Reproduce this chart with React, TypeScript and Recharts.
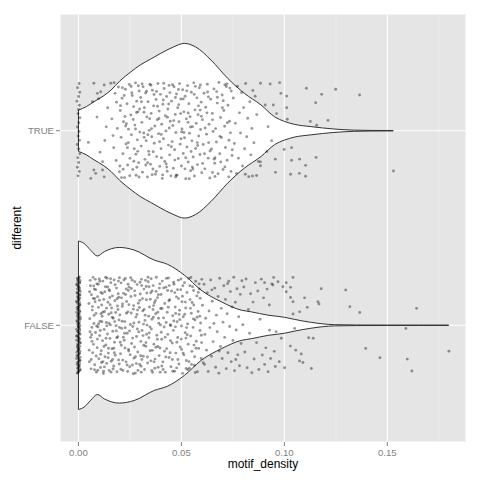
import {
  ComposedChart,
  Area,
  Line,
  Scatter,
  XAxis,
  YAxis,
  CartesianGrid,
} from "recharts"

// category centres on the numeric y axis
const TRUE_Y = 2
const FALSE_Y = 1

const xTicks = [0, 0.05, 0.1, 0.15]
const xMinorTicks = [0.025, 0.075, 0.125, 0.175]
const yTicks = [FALSE_Y, TRUE_Y]
const yLabels: Record<number, string> = { 1: "FALSE", 2: "TRUE" }

// violin half-widths (in category units) along motif_density
const trueDensity: [number, number][] = [
  [0, 0.106], [0.004, 0.125], [0.0075, 0.149], [0.012, 0.178], [0.0158, 0.209],
  [0.02, 0.255], [0.0255, 0.303], [0.03, 0.338], [0.035, 0.368], [0.04, 0.398],
  [0.046, 0.43], [0.0514, 0.449], [0.057, 0.43], [0.0644, 0.363], [0.0725, 0.269],
  [0.0806, 0.192], [0.0887, 0.132], [0.0952, 0.072], [0.1, 0.048], [0.1048, 0.033],
  [0.113, 0.021], [0.124, 0.009], [0.134, 0.003], [0.143, 0.0015], [0.1529, 0.001],
]

const falseDensity: [number, number][] = [
  [0, 0.433], [0.0027, 0.421], [0.006, 0.385], [0.0092, 0.356], [0.0125, 0.378],
  [0.0198, 0.4], [0.027, 0.387], [0.0368, 0.335], [0.0433, 0.313], [0.0514, 0.258],
  [0.0595, 0.181], [0.0693, 0.121], [0.079, 0.078], [0.0839, 0.069], [0.092, 0.052],
  [0.1001, 0.041], [0.105, 0.03], [0.113, 0.015], [0.1244, 0.003], [0.135, 0.0015],
  [0.15, 0.001], [0.165, 0.001], [0.1798, 0.001],
]

// jittered observations: [motif_density, vertical jitter]
const truePoints: [number, number][] = [
  [0.0003,0.243],[-0.0004,0.221],[0.0006,0.198],[0.0001,0.176],[-0.0007,0.152],[0.0004,0.131],[0.0,0.109],[-0.0002,0.088],[0.0007,0.067],[0.0002,0.041],
  [-0.0005,0.019],[0.0003,-0.004],[-0.0001,-0.027],[0.0005,-0.049],[-0.0006,-0.071],[0.0002,-0.094],[0.0006,-0.118],[-0.0003,-0.139],[0.0001,-0.163],[-0.0005,-0.188],
  [0.0004,-0.209],[-0.0002,-0.232],
  [0.0075,0.244],[0.0092,0.192],[0.0108,0.2],[0.0125,0.235],[0.0157,0.244],[0.0173,0.247],[0.0068,0.149],[0.006,-0.245],[0.0075,-0.202],[0.0084,-0.219],
  [0.0117,-0.202],[0.0125,-0.237],[0.0117,-0.159],[0.009,0.07],[0.0135,0.02],[0.0048,-0.06],[0.0105,-0.11],[0.0142,0.118],[0.0128,-0.05],[0.0098,0.165],
  [0.0162,0.061],[0.0171,-0.087],[0.0178,0.192],[0.0183,-0.153],[0.0189,0.012],[0.0194,0.225],[0.0199,-0.211],[0.0203,0.104],[0.0207,-0.034],[0.0212,0.167],
  [0.0216,-0.118],[0.0219,0.046],[0.0224,-0.241],[0.0228,0.213],[0.0231,-0.068],[0.0236,0.139],[0.0239,-0.176],[0.0243,0.008],[0.0247,0.238],[0.025,-0.142],
  [0.0254,0.081],[0.0257,-0.021],[0.0261,0.181],[0.0264,-0.199],[0.0268,0.124],[0.0271,-0.093],[0.0274,0.029],[0.0277,0.246],[0.028,-0.229],[0.0283,0.152],
  [0.0286,-0.047],[0.0289,0.097],[0.0292,-0.164],[0.0295,0.204],[0.0298,-0.007],[0.0185,0.147],[0.0201,-0.181],[0.0226,0.073],[0.0249,-0.231],[0.0266,0.058],
  [0.0279,-0.121],[0.0291,0.231],[0.0168,-0.025],[0.0213,0.221],[0.0238,-0.087],[0.0259,0.195],[0.0284,-0.188],[0.0297,0.112],[0.0209,-0.241],[0.0233,0.036],
  [0.0302,0.171],[0.0305,-0.079],[0.0308,0.043],[0.0311,-0.213],[0.0314,0.226],[0.0317,-0.012],[0.032,0.118],[0.0323,-0.147],[0.0326,0.194],[0.0329,-0.051],
  [0.0332,0.071],[0.0335,-0.238],[0.0338,0.149],[0.0341,-0.106],[0.0344,0.002],[0.0347,0.239],[0.035,-0.172],[0.0353,0.089],[0.0356,-0.031],[0.0359,0.208],
  [0.0362,-0.197],[0.0365,0.128],[0.0368,-0.064],[0.0371,0.024],[0.0374,-0.224],[0.0377,0.161],[0.038,-0.133],[0.0383,0.057],[0.0386,0.243],[0.0389,-0.015],
  [0.0392,0.101],[0.0395,-0.183],[0.0398,0.187],[0.0401,-0.092],[0.0404,0.033],[0.0407,-0.245],[0.041,0.136],[0.0413,-0.041],[0.0416,0.217],[0.0419,-0.158],
  [0.0422,0.077],[0.0425,-0.001],[0.0428,0.176],[0.0431,-0.208],[0.0434,0.112],[0.0437,-0.074],[0.044,0.233],[0.0443,-0.124],[0.0446,0.049],[0.0449,-0.232],
  [0.0309,0.241],[0.0327,-0.176],[0.0346,0.062],[0.0363,-0.108],[0.0379,0.202],[0.0394,-0.057],[0.0412,0.158],[0.0429,-0.187],[0.0441,0.014],[0.0318,0.095],
  [0.0337,-0.021],[0.0358,-0.226],[0.0384,0.126],[0.0403,-0.139],[0.0432,0.069],
  [0.0452,0.152],[0.0455,-0.056],[0.0458,0.027],[0.0461,-0.193],[0.0464,0.226],[0.0467,-0.098],[0.047,0.084],[0.0473,-0.009],[0.0476,0.189],[0.0479,-0.229],
  [0.0482,0.118],[0.0485,-0.143],[0.0488,0.046],[0.0491,0.242],[0.0494,-0.069],[0.0497,0.163],[0.05,-0.181],[0.0503,0.009],[0.0506,0.211],[0.0509,-0.117],
  [0.0512,0.097],[0.0515,-0.036],[0.0518,0.177],[0.0521,-0.247],[0.0524,0.061],[0.0527,-0.084],[0.053,0.232],[0.0533,-0.161],[0.0536,0.139],[0.0539,-0.013],
  [0.0542,0.072],[0.0545,-0.206],[0.0548,0.198],[0.0551,-0.052],[0.0554,0.021],[0.0557,-0.135],[0.056,0.246],[0.0563,-0.233],[0.0566,0.107],[0.0569,-0.091],
  [0.0572,0.038],[0.0575,0.169],[0.0578,-0.174],[0.0581,0.082],[0.0584,-0.027],[0.0587,0.221],[0.059,-0.122],[0.0593,0.006],[0.0596,0.147],[0.0599,-0.216],
  [0.0457,0.236],[0.0472,-0.238],[0.0487,0.134],[0.0501,-0.006],[0.0517,-0.196],[0.0532,0.043],[0.0547,-0.107],[0.0562,0.187],[0.0577,-0.061],[0.0592,0.235],
  [0.0468,-0.151],[0.0496,0.088],[0.0526,0.205],[0.0553,-0.187],[0.0583,0.128],
  [0.0602,0.057],[0.0606,-0.071],[0.061,0.193],[0.0614,-0.196],[0.0618,0.121],[0.0622,-0.018],[0.0626,0.239],[0.063,-0.141],[0.0634,0.033],[0.0638,-0.243],
  [0.0642,0.162],[0.0646,-0.094],[0.065,0.089],[0.0654,-0.004],[0.0658,0.215],[0.0662,-0.167],[0.0666,0.011],[0.067,-0.058],[0.0674,0.142],[0.0678,-0.221],
  [0.0682,0.248],[0.0686,-0.118],[0.069,0.068],[0.0694,-0.035],[0.0698,0.184],[0.0702,-0.199],[0.0706,0.104],[0.071,0.023],[0.0714,-0.086],[0.0718,0.227],
  [0.0722,-0.152],[0.0726,0.131],[0.073,-0.237],[0.0734,0.049],[0.0738,-0.011],[0.0742,0.204],[0.0746,-0.127],[0.0612,-0.118],[0.0631,0.174],[0.0651,-0.215],
  [0.0671,0.201],[0.0691,-0.161],[0.0711,0.236],[0.0731,-0.049],[0.0624,0.092],[0.0663,-0.139],[0.0703,0.154],[0.0741,-0.209],
  [0.0204,0.129],[0.0217,-0.198],[0.0229,0.024],[0.0242,-0.061],[0.0256,0.227],[0.0269,-0.157],[0.0282,0.094],[0.0294,-0.238],[0.0306,0.149],[0.0319,-0.034],
  [0.0331,0.203],[0.0343,-0.123],[0.0355,0.011],[0.0367,0.186],[0.0378,-0.209],[0.0391,0.063],[0.0402,-0.019],[0.0414,0.244],[0.0426,-0.171],[0.0438,0.137],
  [0.0451,-0.082],[0.0463,0.052],[0.0474,-0.228],[0.0486,0.212],[0.0498,-0.041],[0.0509,0.163],[0.0521,-0.139],[0.0533,0.091],[0.0544,0.019],[0.0556,-0.197],
  [0.0568,0.228],[0.0579,-0.076],[0.0591,0.106],[0.0603,-0.168],[0.0615,0.014],[0.0627,0.199],[0.0639,-0.104],[0.0651,0.056],[0.0663,-0.235],[0.0675,0.172],
  [0.0687,-0.029],[0.0699,0.118],[0.0711,-0.186],[0.0723,0.041],[0.0735,0.219],[0.0747,-0.098],[0.0222,0.181],[0.0288,-0.106],[0.0352,0.234],[0.0409,-0.227],
  [0.0471,0.171],[0.0538,-0.247],[0.0597,0.074],[0.0659,-0.146],[0.0721,0.241],[0.0277,0.009],[0.0336,-0.164],[0.0444,0.196],[0.0512,-0.009],[0.0632,-0.061],
  [0.0752,0.168],[0.0757,-0.066],[0.0762,0.038],[0.0767,-0.219],[0.0772,0.229],[0.0777,-0.141],[0.0782,0.092],[0.0787,-0.012],[0.0792,0.196],[0.0797,-0.181],
  [0.0802,0.119],[0.0807,-0.093],[0.0812,0.243],[0.0817,-0.031],[0.0822,0.064],[0.0827,-0.236],[0.0832,0.149],[0.0837,-0.124],[0.0842,0.012],[0.0847,0.207],
  [0.081,-0.224],[0.0845,-0.233],[0.0865,-0.23],[0.0852,-0.062],[0.0858,0.177],[0.0866,0.083],[0.0874,-0.158],[0.0884,0.244],[0.0884,-0.16],[0.0884,-0.18],
  [0.0907,0.132],
  [0.0977,0.247],[0.0931,0.24],[0.1107,0.218],[0.1249,0.213],[0.1365,0.184],[0.1181,0.187],[0.1152,0.144],[0.1011,0.178],[0.0983,0.192],[0.0946,0.132],
  [0.1011,0.118],[0.1014,0.059],[0.1126,0.048],[0.1212,0.053],[0.1157,0.028],[0.0999,-0.096],[0.1035,-0.087],[0.0956,-0.146],[0.1035,-0.152],[0.1074,-0.146],
  [0.1154,-0.137],[0.1103,-0.178],[0.103,-0.224],[0.1073,-0.219],[0.1103,-0.234],[0.153,-0.207],[0.0957,-0.214],[0.0921,0.021],[0.0938,-0.051],[0.0962,0.088],
  [0.0915,-0.107],
]

const falsePoints: [number, number][] = [
  [0.0004,0.248],[-0.0006,0.241],[0.0001,0.236],[0.0008,0.229],[-0.0003,0.223],[0.0005,0.217],[-0.0008,0.211],[0.0002,0.204],[-0.0001,0.198],[0.0006,0.191],
  [-0.0005,0.186],[0.0003,0.179],[0.0009,0.173],[-0.0007,0.166],[0.0,0.161],[0.0004,0.154],[-0.0004,0.148],[0.0007,0.141],[-0.0002,0.136],[0.0001,0.129],
  [-0.0009,0.123],[0.0005,0.117],[-0.0003,0.111],[0.0008,0.104],[0.0002,0.098],[-0.0006,0.092],[0.0003,0.086],[-0.0001,0.079],[0.0006,0.073],[-0.0008,0.067],
  [0.0001,0.061],[0.0004,0.054],[-0.0005,0.048],[0.0009,0.042],[-0.0002,0.036],[0.0003,0.029],[-0.0007,0.023],[0.0005,0.017],[0.0,0.011],[-0.0004,0.004],
  [0.0007,-0.002],[-0.0001,-0.008],[0.0002,-0.014],[-0.0009,-0.021],[0.0006,-0.027],[-0.0003,-0.033],[0.0004,-0.039],[0.0008,-0.046],[-0.0006,-0.052],[0.0001,-0.058],
  [-0.0002,-0.064],[0.0005,-0.071],[-0.0008,-0.077],[0.0003,-0.083],[0.0009,-0.089],[-0.0004,-0.096],[0.0,-0.102],[0.0006,-0.108],[-0.0005,-0.114],[0.0002,-0.121],
  [-0.0001,-0.127],[0.0007,-0.133],[-0.0007,-0.139],[0.0004,-0.146],[0.0001,-0.152],[-0.0003,-0.158],[0.0008,-0.164],[-0.0009,-0.171],[0.0003,-0.177],[0.0005,-0.183],
  [-0.0002,-0.189],[0.0006,-0.196],[-0.0006,-0.202],[0.0001,-0.208],[0.0004,-0.214],[-0.0004,-0.221],[0.0009,-0.227],[-0.0001,-0.233],[0.0002,-0.239],[-0.0005,-0.246],
  [0.0002,0.245],[-0.0003,0.232],[0.0006,0.219],[-0.0007,0.207],[0.0001,0.194],[0.0004,0.182],[-0.0005,0.169],[0.0008,0.157],[-0.0001,0.144],[0.0003,0.132],
  [-0.0008,0.119],[0.0005,0.107],[0.0,0.094],[-0.0004,0.082],[0.0007,0.069],[-0.0002,0.057],[0.0001,0.044],[0.0009,0.032],[-0.0006,0.019],[0.0003,0.007],
  [-0.0001,-0.006],[0.0006,-0.018],[-0.0003,-0.031],[0.0002,-0.043],[-0.0009,-0.056],[0.0004,-0.068],[0.0,-0.081],[0.0007,-0.093],[-0.0005,-0.106],[0.0002,-0.118],
  [-0.0002,-0.131],[0.0005,-0.143],[-0.0007,-0.156],[0.0001,-0.168],[0.0008,-0.181],[-0.0004,-0.193],[0.0003,-0.206],[-0.0001,-0.218],[0.0006,-0.231],[-0.0003,-0.243],
  [0.0051,0.112],[0.0053,-0.187],[0.0055,0.034],[0.0057,0.231],[0.0059,-0.062],[0.0061,-0.224],[0.0063,0.157],[0.0065,-0.011],[0.0067,0.078],[0.0069,-0.141],
  [0.0071,0.246],[0.0073,-0.098],[0.0075,0.009],[0.0077,0.186],[0.0079,-0.203],[0.0081,0.121],[0.0083,-0.037],[0.0085,0.061],[0.0087,-0.241],[0.0089,0.213],
  [0.0091,-0.115],[0.0093,0.147],[0.0095,-0.009],[0.0097,0.092],[0.0099,-0.172],[0.0101,0.238],[0.0103,-0.053],[0.0105,0.021],[0.0107,-0.217],[0.0109,0.169],
  [0.0111,-0.131],[0.0113,0.104],[0.0115,0.046],[0.0117,-0.079],[0.0119,0.227],[0.0121,-0.248],[0.0123,0.133],[0.0125,-0.022],[0.0127,0.071],[0.0129,-0.162],
  [0.0131,0.198],[0.0133,-0.101],[0.0135,0.014],[0.0137,-0.196],[0.0139,0.242],[0.0141,-0.045],[0.0143,0.118],[0.0145,-0.143],[0.0147,0.057],[0.0149,-0.232],
  [0.0151,0.177],[0.0153,-0.068],[0.0155,0.002],[0.0157,0.219],[0.0159,-0.185],[0.0161,0.089],[0.0163,-0.121],[0.0165,0.151],[0.0167,-0.031],[0.0169,0.036],
  [0.0171,-0.209],[0.0173,0.233],[0.0175,-0.087],[0.0177,0.126],[0.0179,-0.154],[0.0181,0.066],[0.0183,-0.002],[0.0185,0.191],[0.0187,-0.239],[0.0189,0.099],
  [0.0191,-0.059],[0.0193,0.162],[0.0195,-0.178],[0.0197,0.027],[0.0199,0.244],[0.0052,-0.128],[0.0058,0.203],[0.0064,-0.049],[0.0072,0.138],[0.0078,-0.229],
  [0.0084,0.183],[0.0092,-0.071],[0.0098,0.008],[0.0104,0.226],[0.0112,-0.191],[0.0118,0.067],[0.0124,-0.109],[0.0132,0.247],[0.0138,-0.003],[0.0144,-0.167],
  [0.0152,0.143],[0.0158,-0.241],[0.0164,0.041],[0.0172,-0.118],[0.0178,0.208],[0.0184,-0.029],[0.0192,0.081],[0.0198,-0.199],[0.0068,0.096],[0.0088,-0.004],
  [0.0108,-0.149],[0.0128,0.172],[0.0148,0.011],[0.0168,-0.225],[0.0188,0.136],[0.0062,-0.176],[0.0082,0.236],[0.0102,0.129],[0.0122,-0.236],[0.0142,0.197],
  [0.0201,0.053],[0.0204,-0.146],[0.0207,0.218],[0.021,-0.016],[0.0213,0.097],[0.0216,-0.232],[0.0219,0.164],[0.0222,-0.077],[0.0225,0.019],[0.0228,0.241],
  [0.0231,-0.188],[0.0234,0.122],[0.0237,-0.041],[0.024,0.069],[0.0243,-0.124],[0.0246,0.196],[0.0249,-0.213],[0.0252,0.004],[0.0255,0.148],[0.0258,-0.094],
  [0.0261,0.232],[0.0264,-0.006],[0.0267,0.083],[0.027,-0.169],[0.0273,0.177],[0.0276,-0.246],[0.0279,0.042],[0.0282,-0.058],[0.0285,0.209],[0.0288,-0.137],
  [0.0291,0.113],[0.0294,0.016],[0.0297,-0.201],[0.03,0.161],[0.0303,-0.083],[0.0306,0.236],[0.0309,-0.027],[0.0312,0.074],[0.0315,-0.159],[0.0318,0.186],
  [0.0321,-0.227],[0.0324,0.052],[0.0327,-0.108],[0.033,0.131],[0.0333,0.001],[0.0336,-0.194],[0.0339,0.224],[0.0342,-0.064],[0.0345,0.094],[0.0348,-0.131],
  [0.0351,0.167],[0.0354,-0.019],[0.0357,0.031],[0.036,-0.242],[0.0363,0.204],[0.0366,-0.097],[0.0369,0.116],[0.0372,-0.174],[0.0375,0.059],[0.0378,0.247],
  [0.0381,-0.051],[0.0384,0.142],[0.0387,-0.216],[0.039,0.011],[0.0393,0.191],[0.0396,-0.117],[0.0399,0.086],[0.0203,-0.087],[0.0209,0.141],[0.0215,-0.179],
  [0.0221,0.233],[0.0227,-0.013],[0.0233,0.062],[0.0239,-0.238],[0.0245,0.106],[0.0251,-0.151],[0.0257,0.189],[0.0263,-0.066],[0.0269,0.012],[0.0275,0.153],
  [0.0281,-0.197],[0.0287,0.078],[0.0293,-0.034],[0.0299,0.221],[0.0305,-0.241],[0.0311,0.137],[0.0317,-0.103],[0.0323,0.025],[0.0329,0.199],[0.0335,-0.163],
  [0.0341,0.047],[0.0347,-0.008],[0.0353,0.239],[0.0359,-0.129],[0.0365,0.101],[0.0371,-0.221],[0.0377,0.174],[0.0383,-0.072],[0.0389,0.036],[0.0395,0.213],
  [0.0212,0.021],[0.0236,-0.204],[0.0254,0.244],[0.0272,-0.112],[0.0296,0.091],[0.0314,-0.053],[0.0332,0.166],[0.0356,-0.232],[0.0374,0.127],[0.0392,-0.156],
  [0.0218,-0.061],[0.0242,0.179],[0.0266,-0.249],[0.0284,0.056],[0.0308,-0.176],[0.0326,0.231],[0.0344,-0.039],[0.0362,0.081],[0.0386,-0.109],[0.0398,0.002],
  [0.0401,0.158],[0.0404,-0.072],[0.0407,0.227],[0.041,-0.188],[0.0413,0.038],[0.0416,-0.009],[0.0419,0.112],[0.0422,-0.241],[0.0425,0.196],[0.0428,-0.121],
  [0.0431,0.067],[0.0434,-0.047],[0.0437,0.243],[0.044,-0.166],[0.0443,0.131],[0.0446,0.003],[0.0449,-0.213],[0.0452,0.176],[0.0455,-0.091],[0.0458,0.049],
  [0.0461,-0.026],[0.0464,0.211],[0.0467,-0.236],[0.047,0.094],[0.0473,-0.143],[0.0476,0.146],[0.0479,0.018],[0.0482,-0.063],[0.0485,0.232],[0.0488,-0.199],
  [0.0491,0.077],[0.0494,-0.112],[0.0497,0.183],[0.05,-0.004],[0.0503,0.121],[0.0506,-0.247],[0.0509,0.044],[0.0512,-0.152],[0.0515,0.219],[0.0518,-0.038],
  [0.0521,0.089],[0.0524,-0.181],[0.0527,0.169],[0.053,0.007],[0.0533,-0.097],[0.0536,0.241],[0.0539,-0.221],[0.0542,0.132],[0.0545,-0.055],[0.0548,0.062],
  [0.0551,-0.134],[0.0554,0.198],[0.0557,-0.011],[0.056,0.104],[0.0563,-0.205],[0.0566,0.027],[0.0569,0.226],[0.0572,-0.082],[0.0575,0.151],[0.0578,-0.239],
  [0.0581,0.071],[0.0584,-0.119],[0.0587,0.187],[0.059,-0.027],[0.0593,0.012],[0.0596,-0.171],[0.0599,0.236],[0.0406,0.086],[0.0418,-0.134],[0.0433,0.179],
  [0.0447,-0.079],[0.0462,0.221],[0.0477,-0.219],[0.0492,0.029],[0.0507,0.203],[0.0522,-0.066],[0.0537,-0.187],[0.0552,0.117],[0.0567,-0.243],[0.0582,0.169],
  [0.0597,-0.051],[0.0411,-0.227],[0.0426,0.014],[0.0441,0.204],[0.0456,-0.176],[0.0471,-0.008],[0.0486,0.137],[0.0501,-0.124],[0.0516,0.057],[0.0531,-0.229],
  [0.0546,0.246],[0.0561,-0.102],[0.0576,0.041],[0.0591,0.139],[0.0472,0.061],
  [0.0054,0.172],[0.0066,-0.083],[0.0076,0.051],[0.0086,-0.158],[0.0096,0.211],[0.0106,-0.027],[0.0116,0.163],[0.0126,-0.214],[0.0136,0.088],[0.0146,-0.118],
  [0.0156,0.239],[0.0166,-0.176],[0.0176,0.019],[0.0186,-0.064],[0.0196,0.144],[0.0206,-0.226],[0.0214,0.109],[0.0224,-0.041],[0.0232,0.187],[0.0244,-0.132],
  [0.0256,0.063],[0.0262,-0.204],[0.0274,0.224],[0.0286,-0.019],[0.0298,0.128],[0.0302,-0.157],[0.0316,0.006],[0.0328,-0.089],[0.0338,0.247],[0.0352,-0.183],
  [0.0364,0.041],[0.0376,-0.113],[0.0388,0.157],[0.0402,-0.036],[0.0414,0.192],[0.0424,-0.163],[0.0436,0.093],[0.0448,-0.002],[0.0458,-0.236],[0.0468,0.168],
  [0.0478,-0.087],[0.0489,0.056],[0.0498,0.238],[0.0508,-0.143],[0.0519,0.119],[0.0528,-0.049],[0.0541,0.203],[0.0549,-0.201],[0.0558,0.033],[0.0571,-0.118],
  [0.0056,-0.033],[0.0074,0.202],[0.0094,-0.231],[0.0114,0.018],[0.0134,-0.067],[0.0154,0.106],[0.0174,-0.141],[0.0194,0.227],[0.0208,-0.103],[0.0229,0.158],
  [0.0248,-0.029],[0.0268,0.101],[0.0289,-0.232],[0.0307,0.204],[0.0331,-0.046],[0.0349,0.134],[0.0367,-0.188],[0.0385,0.067],[0.0405,-0.209],[0.0427,0.241],
  [0.0445,-0.141],[0.0463,0.022],[0.0483,-0.176],[0.0505,0.149],[0.0525,-0.012],[0.0544,0.087],[0.0564,-0.162],[0.0586,0.213],[0.0598,-0.089],[0.0589,0.047],
  [0.0079,0.137],[0.0119,-0.187],[0.0159,0.064],[0.0199,-0.011],[0.0241,0.211],[0.0277,-0.162],[0.0319,0.081],[0.0358,0.176],[0.0397,-0.241],[0.0439,0.126],
  [0.0481,0.183],[0.0523,-0.222],[0.0559,0.179],[0.0109,0.059],[0.0149,0.183],[0.0226,-0.117],[0.0304,-0.211],[0.0343,0.198],[0.0421,-0.061],[0.0499,-0.071],
  [0.0602,0.103],[0.0606,-0.193],[0.061,0.211],[0.0614,-0.047],[0.0618,0.036],[0.0622,-0.128],[0.0626,0.167],[0.063,-0.238],[0.0634,0.073],[0.0638,-0.012],
  [0.0642,0.233],[0.0646,-0.159],[0.065,0.124],[0.0654,-0.084],[0.0658,0.009],[0.0662,0.191],[0.0666,-0.216],[0.067,0.052],[0.0674,-0.033],[0.0678,0.148],
  [0.0682,-0.246],[0.0686,0.242],[0.069,-0.109],[0.0694,0.087],[0.0698,-0.171],[0.0702,0.016],[0.0706,0.203],[0.071,-0.062],[0.0714,0.133],[0.0718,-0.223],
  [0.0722,0.059],[0.0726,-0.141],[0.073,0.226],[0.0734,-0.006],[0.0738,0.173],[0.0742,-0.187],[0.0746,0.094],[0.075,-0.078],[0.0754,0.247],[0.0758,-0.234],
  [0.0762,0.118],[0.0766,-0.024],[0.077,0.188],[0.0774,-0.152],[0.0778,0.044],[0.0782,-0.208],[0.0786,0.159],[0.079,-0.094],[0.0794,0.229],[0.0798,0.003],
  [0.0612,-0.201],[0.0648,0.182],[0.0684,-0.132],[0.0724,0.214],[0.0764,-0.176],
  [0.0803,0.197],[0.0808,-0.137],[0.0814,0.238],[0.0819,-0.218],[0.0825,0.081],[0.0831,-0.041],[0.0836,0.162],[0.0842,-0.244],[0.0848,0.119],[0.0853,-0.173],
  [0.0859,0.219],[0.0865,-0.089],[0.0871,0.176],[0.0876,-0.227],[0.0882,0.031],[0.0888,0.237],[0.0893,-0.153],[0.0899,0.141],[0.0904,0.219],[0.0904,-0.201],
  [0.091,-0.116],[0.0916,0.186],[0.0921,-0.239],[0.0927,0.104],[0.0933,-0.171],[0.0928,-0.025],[0.0939,0.213],[0.0944,0.207],[0.0948,0.246],[0.0951,-0.134],
  [0.0956,-0.212],[0.096,-0.033],[0.0969,0.224],[0.0975,-0.187],[0.0985,-0.067],[0.0993,0.198],
  [0.1009,0.219],[0.1042,0.246],[0.103,0.195],[0.1009,0.172],[0.1179,0.188],[0.1298,0.181],[0.1098,0.141],[0.1163,0.121],[0.1168,0.109],[0.1111,0.092],
  [0.1074,0.069],[0.1042,0.121],[0.103,0.143],[0.1042,0.058],[0.1318,0.095],[0.1366,0.066],[0.1642,0.087],[0.105,-0.016],[0.159,-0.016],[0.1118,-0.064],
  [0.114,-0.067],[0.1395,-0.119],[0.1029,-0.107],[0.1055,-0.128],[0.1082,-0.148],[0.1074,-0.184],[0.109,-0.191],[0.1131,-0.222],[0.1001,-0.218],[0.1464,-0.167],
  [0.1597,-0.174],[0.1619,-0.235],[0.1799,-0.133],
]

const toBand = (density: [number, number][], centre: number) =>
  density.map(([x, w]) => ({ x, band: [centre - w, centre + w] }))

const toPoints = (pts: [number, number][], centre: number) =>
  pts.map(([x, dy]) => ({ x, y: centre + dy }))

// closing edge of the violin at its lower end
const edge = (density: [number, number][], centre: number) => {
  const [x, w] = density[0]
  return [{ x, y: centre - w }, { x, y: centre + w }]
}

const grey = "#7F7F7F"
const dot = (p: any) => (
  <circle cx={p.cx} cy={p.cy} r={1.45} fill="#000" fillOpacity={0.4} />
)

const XTitle = ({ viewBox }: any) => (
  <text x={viewBox.x + viewBox.width / 2} y={viewBox.y + 26} textAnchor="middle" fontSize={12} fill="#000">
    motif_density
  </text>
)

const YTitle = ({ viewBox }: any) => {
  const cy = viewBox.y + viewBox.height / 2
  return (
    <text x={21} y={cy} textAnchor="middle" fontSize={12} fill="#000" transform={`rotate(-90, 21, ${cy})`}>
      different
    </text>
  )
}

export default function App() {
  return (
    <div style={{ position: "absolute", left: 0, top: 0 }}>
      <ComposedChart
        width={480}
        height={480}
        margin={{ top: 14, right: 14, left: 0, bottom: 0 }}
        style={{ fontFamily: "'Liberation Sans', Arial, sans-serif", background: "#fff" }}
      >
        <XAxis xAxisId="minor" type="number" dataKey="x" domain={[-0.00896, 0.1882]} ticks={xMinorTicks} allowDataOverflow hide />
        <XAxis
          type="number"
          dataKey="x"
          domain={[-0.00896, 0.1882]}
          allowDataOverflow
          ticks={xTicks}
          tickFormatter={(v: number) => v.toFixed(2)}
          height={38}
          axisLine={false}
          tickSize={4}
          tickMargin={3}
          tickLine={{ stroke: grey }}
          tick={{ fill: grey, fontSize: 9.6 }}
          label={{ content: XTitle }}
        />
        <YAxis
          type="number"
          dataKey="y"
          domain={[0.4, 2.6]}
          allowDataOverflow
          ticks={yTicks}
          tickFormatter={(v: number) => yLabels[v]}
          width={60}
          axisLine={false}
          tickSize={4}
          tickMargin={2}
          tickLine={{ stroke: grey }}
          tick={{ fill: grey, fontSize: 9.6 }}
          label={{ content: YTitle }}
        />
        <CartesianGrid xAxisId="minor" horizontal={false} fill="#E5E5E5" stroke="#F2F2F2" strokeWidth={0.6} />
        <CartesianGrid stroke="#FFFFFF" strokeWidth={1.1} />

        <Area data={toBand(trueDensity, TRUE_Y)} dataKey="band" type="monotone" fill="#fff" fillOpacity={1} stroke="#333" strokeWidth={1} isAnimationActive={false} />
        <Area data={toBand(falseDensity, FALSE_Y)} dataKey="band" type="monotone" fill="#fff" fillOpacity={1} stroke="#333" strokeWidth={1} isAnimationActive={false} />
        <Line data={edge(trueDensity, TRUE_Y)} dataKey="y" stroke="#333" strokeWidth={1} dot={false} isAnimationActive={false} />
        <Line data={edge(falseDensity, FALSE_Y)} dataKey="y" stroke="#333" strokeWidth={1} dot={false} isAnimationActive={false} />

        <Scatter data={toPoints(truePoints, TRUE_Y)} dataKey="y" shape={dot} isAnimationActive={false} />
        <Scatter data={toPoints(falsePoints, FALSE_Y)} dataKey="y" shape={dot} isAnimationActive={false} />
      </ComposedChart>
    </div>
  )
}
